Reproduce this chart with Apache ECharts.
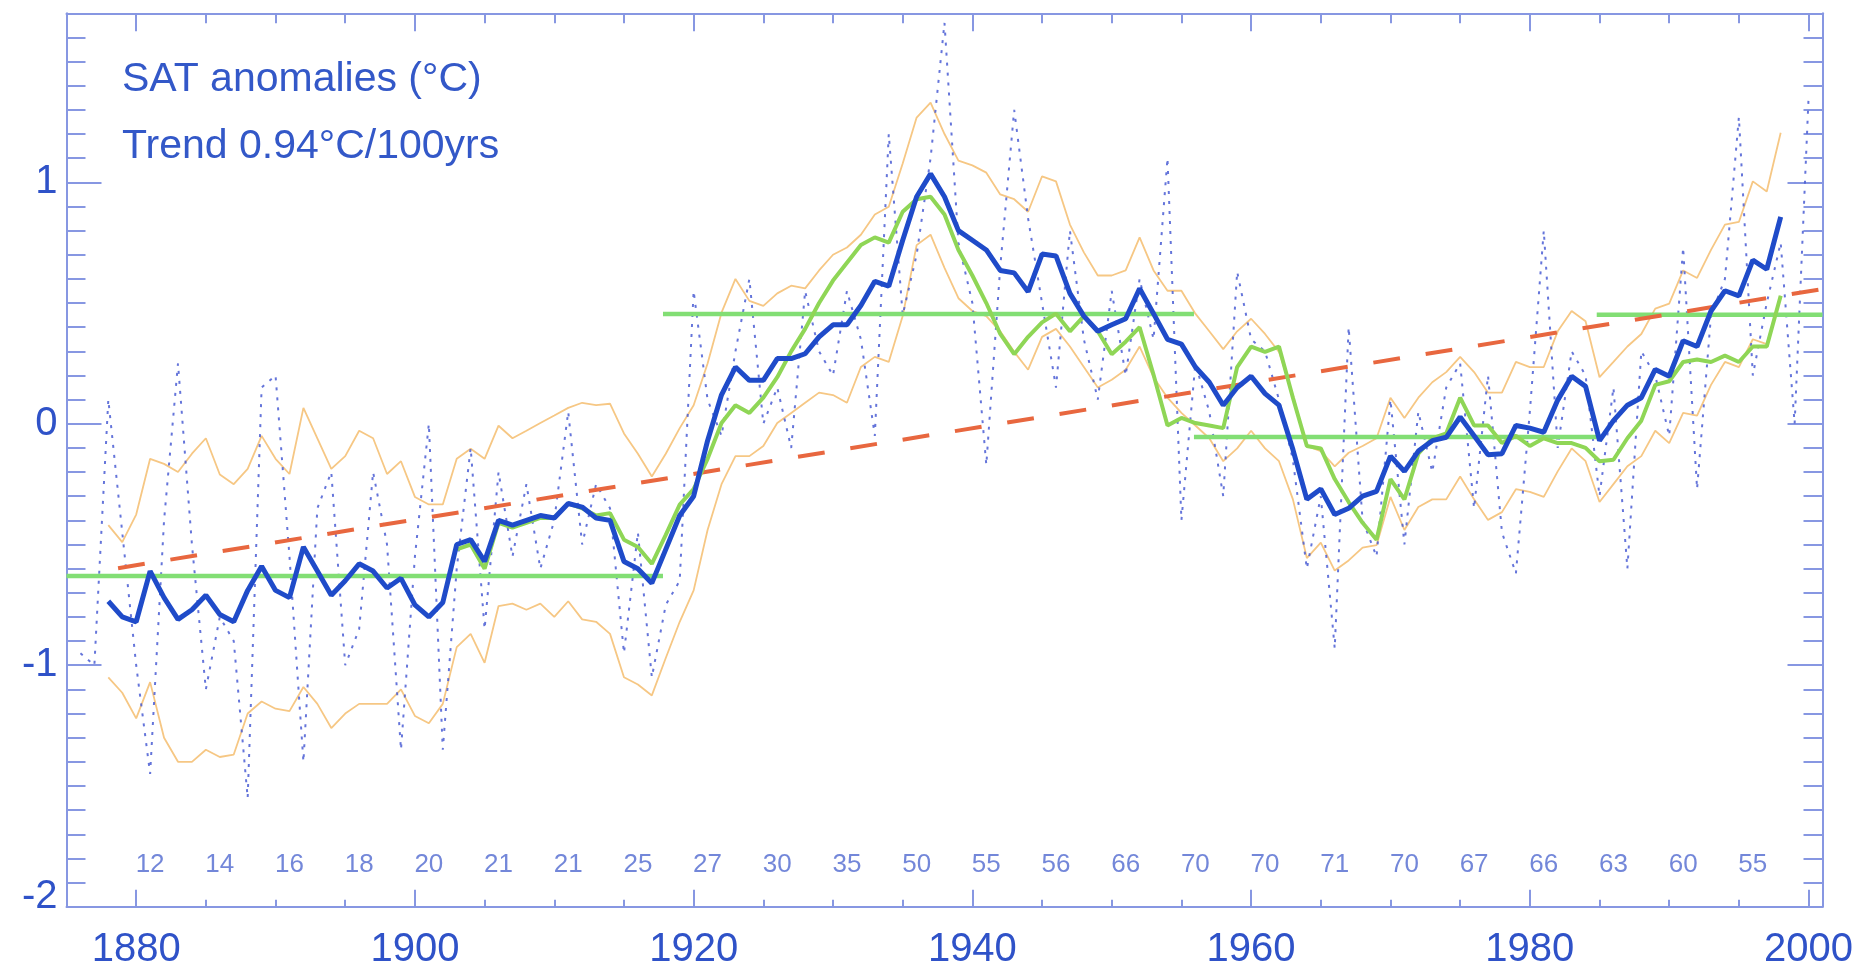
<!DOCTYPE html>
<html>
<head>
<meta charset="utf-8">
<script src="https://cdn.jsdelivr.net/npm/echarts@6/dist/echarts.min.js"></script>
<style>
html,body{margin:0;padding:0;background:#fff;}
#chart{width:1861px;height:968px;}
</style>
</head>
<body>
<div id="chart"></div>
<script>
// ---------------- DATA ----------------
// Annual SAT anomalies (dotted), 1876-2000
const annualYears = [];
for (let y = 1876; y <= 2000; y++) annualYears.push(y);
const annualValues = [
  -0.95,-1.0,0.1,-0.45,-1.0,-1.45,-0.4,0.25,-0.5,-1.1,
  -0.8,-0.9,-1.55,0.15,0.2,-0.55,-1.4,-0.35,-0.2,-1.0,
  -0.85,-0.2,-0.5,-1.35,-0.55,0.0,-1.35,-0.6,-0.1,-0.85,
  -0.2,-0.55,-0.25,-0.6,-0.4,0.05,-0.5,-0.25,-0.35,-0.95,
  -0.45,-1.05,-0.75,-0.65,0.55,0.1,-0.05,0.3,0.6,0.0,
  0.15,-0.1,0.55,0.3,0.2,0.55,0.35,-0.05,1.2,0.45,
  0.7,1.1,1.66,0.75,0.5,-0.17,0.65,1.3,0.85,0.5,
  0.15,0.8,0.35,0.1,0.55,0.2,0.6,0.35,1.1,-0.4,
  0.25,0.05,-0.3,0.63,0.35,0.3,0.1,-0.15,-0.6,-0.3,
  -0.93,0.4,-0.4,-0.55,0.1,-0.5,0.05,-0.2,0.15,0.25,
  -0.35,0.2,-0.45,-0.62,0.05,0.8,-0.1,0.3,0.2,-0.3,
  0.15,-0.6,0.3,0.2,-0.05,0.73,-0.27,0.45,0.6,1.27,
  0.2,0.5,0.75,0.0,1.35
];

// Smoothed series (thick blue), 1878-1998
const smoothYears = [];
for (let y = 1878; y <= 1998; y++) smoothYears.push(y);
const smoothValues = [
  -0.735,-0.80,-0.82,-0.61,-0.72,-0.81,-0.77,-0.71,-0.79,-0.82,
  -0.69,-0.59,-0.69,-0.72,-0.51,-0.61,-0.71,-0.65,-0.58,-0.61,
  -0.68,-0.64,-0.75,-0.80,-0.74,-0.50,-0.48,-0.57,-0.40,-0.42,
  -0.40,-0.38,-0.39,-0.33,-0.345,-0.39,-0.40,-0.57,-0.60,-0.66,
  -0.52,-0.38,-0.30,-0.07,0.12,0.235,0.18,0.18,0.27,0.27,
  0.29,0.36,0.41,0.41,0.49,0.59,0.57,0.76,0.94,1.035,
  0.94,0.80,0.76,0.72,0.635,0.625,0.547,0.703,0.695,0.54,
  0.446,0.383,0.41,0.435,0.56,0.456,0.35,0.33,0.235,0.172,
  0.077,0.15,0.197,0.125,0.077,-0.107,-0.313,-0.27,-0.376,-0.35,
  -0.30,-0.28,-0.134,-0.197,-0.113,-0.07,-0.056,0.028,-0.05,-0.128,
  -0.124,-0.007,-0.018,-0.035,0.098,0.197,0.155,-0.07,0.013,0.077,
  0.108,0.225,0.197,0.344,0.32,0.467,0.551,0.53,0.678,0.64,
  0.857
];

// Upper / lower bounds (orange), 1878-1998
const upperValues = [
  -0.42,-0.49,-0.376,-0.145,-0.166,-0.20,-0.124,-0.06,-0.21,-0.25,
  -0.187,-0.05,-0.145,-0.208,0.066,-0.06,-0.187,-0.134,-0.029,-0.06,
  -0.208,-0.155,-0.303,-0.334,-0.334,-0.145,-0.103,-0.145,-0.008,-0.06,
  -0.029,0.003,0.034,0.066,0.087,0.077,0.083,-0.04,-0.124,-0.218,
  -0.124,-0.018,0.077,0.25,0.46,0.60,0.509,0.488,0.54,0.572,
  0.561,0.635,0.70,0.73,0.783,0.867,0.899,1.078,1.268,1.33,
  1.20,1.09,1.07,1.04,0.95,0.93,0.878,1.025,1.004,0.825,
  0.71,0.614,0.614,0.635,0.772,0.635,0.551,0.551,0.456,0.383,
  0.309,0.383,0.435,0.372,0.298,0.119,-0.092,-0.113,-0.176,-0.12,
  -0.092,-0.06,0.108,0.024,0.108,0.172,0.214,0.277,0.214,0.129,
  0.129,0.256,0.235,0.235,0.383,0.467,0.425,0.193,0.256,0.32,
  0.372,0.477,0.498,0.635,0.604,0.72,0.825,0.836,1.004,0.962,
  1.205
];
const lowerValues = [
  -1.05,-1.114,-1.22,-1.07,-1.30,-1.40,-1.40,-1.35,-1.38,-1.37,
  -1.20,-1.15,-1.18,-1.19,-1.09,-1.16,-1.26,-1.20,-1.16,-1.16,
  -1.16,-1.10,-1.21,-1.24,-1.16,-0.925,-0.87,-0.99,-0.755,-0.745,
  -0.77,-0.745,-0.80,-0.735,-0.81,-0.82,-0.87,-1.05,-1.08,-1.125,
  -0.97,-0.82,-0.69,-0.44,-0.25,-0.134,-0.134,-0.092,0.003,0.045,
  0.087,0.129,0.119,0.087,0.235,0.277,0.256,0.446,0.74,0.783,
  0.646,0.52,0.467,0.446,0.383,0.298,0.224,0.36,0.393,0.32,
  0.235,0.15,0.182,0.224,0.32,0.193,0.108,0.045,-0.007,-0.06,
  -0.155,-0.102,-0.029,-0.102,-0.155,-0.313,-0.556,-0.492,-0.608,-0.566,
  -0.513,-0.503,-0.303,-0.44,-0.345,-0.313,-0.313,-0.218,-0.313,-0.398,
  -0.366,-0.271,-0.282,-0.303,-0.197,-0.102,-0.155,-0.324,-0.25,-0.176,
  -0.134,-0.029,-0.08,0.045,0.034,0.161,0.256,0.235,0.35,0.33,
  0.53
];

// Second smoothed series (green), 1903-1998
const greenYears = [];
for (let y = 1903; y <= 1998; y++) greenYears.push(y);
const greenValues = [
  -0.52,-0.50,-0.60,-0.41,-0.43,-0.41,-0.39,-0.39,-0.33,-0.35,
  -0.38,-0.37,-0.48,-0.51,-0.58,-0.46,-0.335,-0.27,-0.145,0.003,
  0.077,0.045,0.108,0.193,0.30,0.393,0.50,0.593,0.667,0.74,
  0.772,0.75,0.878,0.93,0.94,0.867,0.72,0.614,0.50,0.372,
  0.288,0.36,0.42,0.456,0.383,0.446,0.383,0.288,0.34,0.40,
  0.203,-0.007,0.024,0.003,-0.007,-0.018,0.235,0.32,0.298,0.32,
  0.108,-0.092,-0.102,-0.229,-0.324,-0.41,-0.48,-0.229,-0.313,-0.124,
  -0.06,-0.04,0.108,-0.007,-0.007,-0.08,-0.05,-0.092,-0.06,-0.08,
  -0.08,-0.10,-0.155,-0.149,-0.06,0.013,0.161,0.176,0.256,0.266,
  0.256,0.282,0.256,0.32,0.32,0.53
];

// Regime means (green horizontal segments)
const regimeStart = [1875, 1917.8, 1955.9, 1984.8];
const regimeEnd   = [1917.8, 1955.9, 1984.8, 2001];
const regimeMean  = [-0.63, 0.455, -0.055, 0.452];

// Linear trend endpoints (0.94 C / 100 yrs)
const trendYears  = [1878.7, 2001];
const trendValues = [-0.598, 0.558];

// Station counts shown along the bottom
const countYears  = [1881,1886,1891,1896,1901,1906,1911,1916,1921,1926,1931,1936,
                     1941,1946,1951,1956,1961,1966,1971,1976,1981,1986,1991,1996];
const countLabels = [12,14,16,18,20,21,21,25,27,30,35,50,55,56,66,70,70,71,70,67,66,63,60,55];
const countLevel  = -1.825;

// Axis ticks / labels
const xMajorTicks = [1880,1900,1920,1940,1960,1980,2000];

// ---------------- CHART ----------------
const axisColor = '#8797e2';
const textColor = '#2f52c8';
const FONT = '"Liberation Sans", Arial, sans-serif';

const chart = echarts.init(document.getElementById('chart'), null, {renderer: 'canvas'});

const pairs = (xs, ys) => xs.map((x, i) => [x, ys[i]]);

function xAxisDef(pos, major) {
  const base = {
    type: 'value', min: 1875, max: 2001, position: pos, gridIndex: 0,
    interval: 5,
    splitLine: {show: false},
    axisLine: {show: !major, onZero: false, lineStyle: {color: axisColor, width: 2}},
    axisLabel: {show: false},
  };
  if (major) {
    base.axisTick = {show: true, inside: true, length: pos === 'bottom' ? 17 : 18,
      customValues: xMajorTicks, lineStyle: {color: axisColor, width: 2}};
  } else {
    base.axisTick = {show: true, inside: true, length: pos === 'bottom' ? 7 : 10,
      lineStyle: {color: axisColor, width: 2}};
    if (pos === 'bottom') {
      base.axisLabel = {show: true, margin: 23, fontSize: 40, color: textColor, fontFamily: FONT,
        formatter: v => (v % 20 === 0 ? String(v) : '')};
    }
  }
  return base;
}

function yAxisDef(pos, major) {
  const base = {
    type: 'value', min: -2, max: 1.7, position: pos, gridIndex: 0,
    splitLine: {show: false},
    axisLine: {show: !major, onZero: false, lineStyle: {color: axisColor, width: 2}},
    axisLabel: {show: false},
  };
  if (major) {
    base.interval = 1;
    base.axisTick = {show: true, inside: true, length: 35, lineStyle: {color: axisColor, width: 2}};
    if (pos === 'left') {
      base.axisLabel = {show: true, margin: 9, fontSize: 40, color: textColor, fontFamily: FONT,
        formatter: v => {
          if (Math.abs(v - Math.round(v)) > 1e-6) return '';
          const r = Math.round(v);
          return r === -2 ? '{lo|-2}' : String(r);
        },
        rich: {lo: {fontSize: 40, color: textColor, fontFamily: FONT, padding: [0, 0, 20, 0]}}};
    }
  } else {
    base.interval = 0.1;
    base.axisTick = {show: true, inside: true, length: 19, lineStyle: {color: axisColor, width: 2}};
  }
  return base;
}

const regimeSeries = regimeStart.map((s, i) => ({
  type: 'line', name: 'regime' + i, xAxisIndex: 0, yAxisIndex: 0,
  data: [[s, regimeMean[i]], [regimeEnd[i], regimeMean[i]]],
  showSymbol: false, symbol: 'none', silent: true, z: 4,
  lineStyle: {color: '#82de74', width: 4.5}
}));

const option = {
  animation: false,
  backgroundColor: '#ffffff',
  grid: {left: 66.5, right: 38.5, top: 13.3, bottom: 61.3, containLabel: false, outerBoundsMode: 'none'},
  xAxis: [xAxisDef('bottom', false), xAxisDef('bottom', true), xAxisDef('top', false), xAxisDef('top', true)],
  yAxis: [yAxisDef('left', false), yAxisDef('left', true), yAxisDef('right', false), yAxisDef('right', true)],
  graphic: [
    {type: 'text', left: 122, top: 59, z: 100,
     style: {text: 'SAT anomalies (°C)', font: '41px ' + FONT, fill: '#3358c8'}},
    {type: 'text', left: 122, top: 126, z: 100,
     style: {text: 'Trend 0.94°C/100yrs', font: '41px ' + FONT, fill: '#3358c8'}}
  ],
  series: [
    {type: 'line', name: 'upper', data: pairs(smoothYears, upperValues), showSymbol: false, symbol: 'none',
     z: 2, lineStyle: {color: '#f6c784', width: 1.8}},
    {type: 'line', name: 'lower', data: pairs(smoothYears, lowerValues), showSymbol: false, symbol: 'none',
     z: 2, lineStyle: {color: '#f6c784', width: 1.8}},
    {type: 'line', name: 'annual', data: pairs(annualYears, annualValues), showSymbol: false, symbol: 'none',
     z: 3, lineStyle: {color: '#4a5dd4', width: 2, type: [3, 7], opacity: 0.85}},
    ...regimeSeries,
    {type: 'line', name: 'trend', data: pairs(trendYears, trendValues), showSymbol: false, symbol: 'none',
     z: 5, lineStyle: {color: '#e8673f', width: 4, type: [27, 26]}},
    {type: 'line', name: 'green', data: pairs(greenYears, greenValues), showSymbol: false, symbol: 'none',
     z: 6, lineStyle: {color: '#8fd656', width: 4}},
    {type: 'line', name: 'smooth', data: pairs(smoothYears, smoothValues), showSymbol: false, symbol: 'none',
     z: 7, lineStyle: {color: '#1f4bc9', width: 5}},
    {type: 'scatter', name: 'counts', data: countYears.map((y, i) => [y, countLevel, countLabels[i]]),
     symbolSize: 0, z: 8, silent: true,
     label: {show: true, position: 'inside', formatter: p => String(p.value[2]),
       fontSize: 26, color: '#5069d0', fontFamily: FONT}}
  ]
};
chart.setOption(option);
</script>
</body>
</html>
